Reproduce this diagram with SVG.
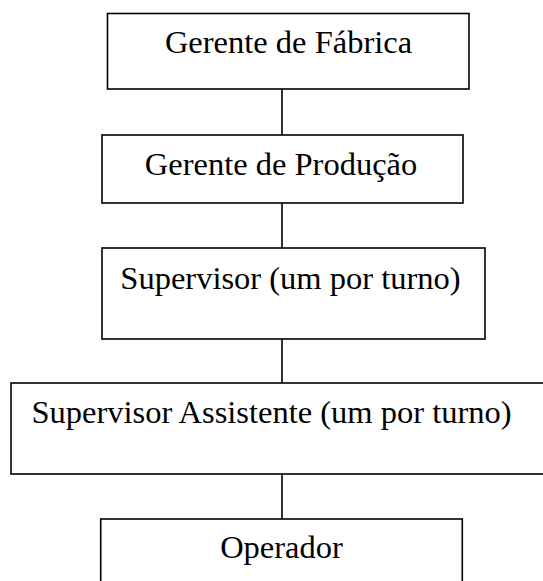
<svg xmlns="http://www.w3.org/2000/svg" width="543" height="581" viewBox="0 0 543 581">
<style>
.box{fill:#fff;stroke:#000;stroke-width:1.6}
.lbl{font-family:"Liberation Serif","Times New Roman",serif;font-size:32.5px;fill:#000;text-anchor:middle}
.conn{stroke:#000;stroke-width:1.6;fill:none}
</style>
<rect width="543" height="581" fill="#fff"/>
<g id="connectors">
<line class="conn" x1="282" y1="89" x2="282" y2="135"/>
<line class="conn" x1="282" y1="203" x2="282" y2="248"/>
<line class="conn" x1="282" y1="339" x2="282" y2="383"/>
<line class="conn" x1="282" y1="474" x2="282" y2="519"/>
</g>
<g id="gerente-fabrica">
<rect class="box" x="107.5" y="13.5" width="361.5" height="75.5"/>
<text class="lbl" x="288.5" y="53.3">Gerente de Fábrica</text>
</g>
<g id="gerente-producao">
<rect class="box" x="102" y="135" width="361" height="68"/>
<text class="lbl" x="281" y="175">Gerente de Produção</text>
</g>
<g id="supervisor">
<rect class="box" x="102" y="248" width="383" height="91"/>
<text class="lbl" x="290.5" y="289.3">Supervisor (um por turno)</text>
</g>
<g id="supervisor-assistente">
<rect class="box" x="11" y="383" width="550" height="91"/>
<text class="lbl" x="271.5" y="423">Supervisor Assistente (um por turno)</text>
</g>
<g id="operador">
<rect class="box" x="100.7" y="519" width="361.6" height="80"/>
<text class="lbl" x="281.5" y="558">Operador</text>
</g>
</svg>
